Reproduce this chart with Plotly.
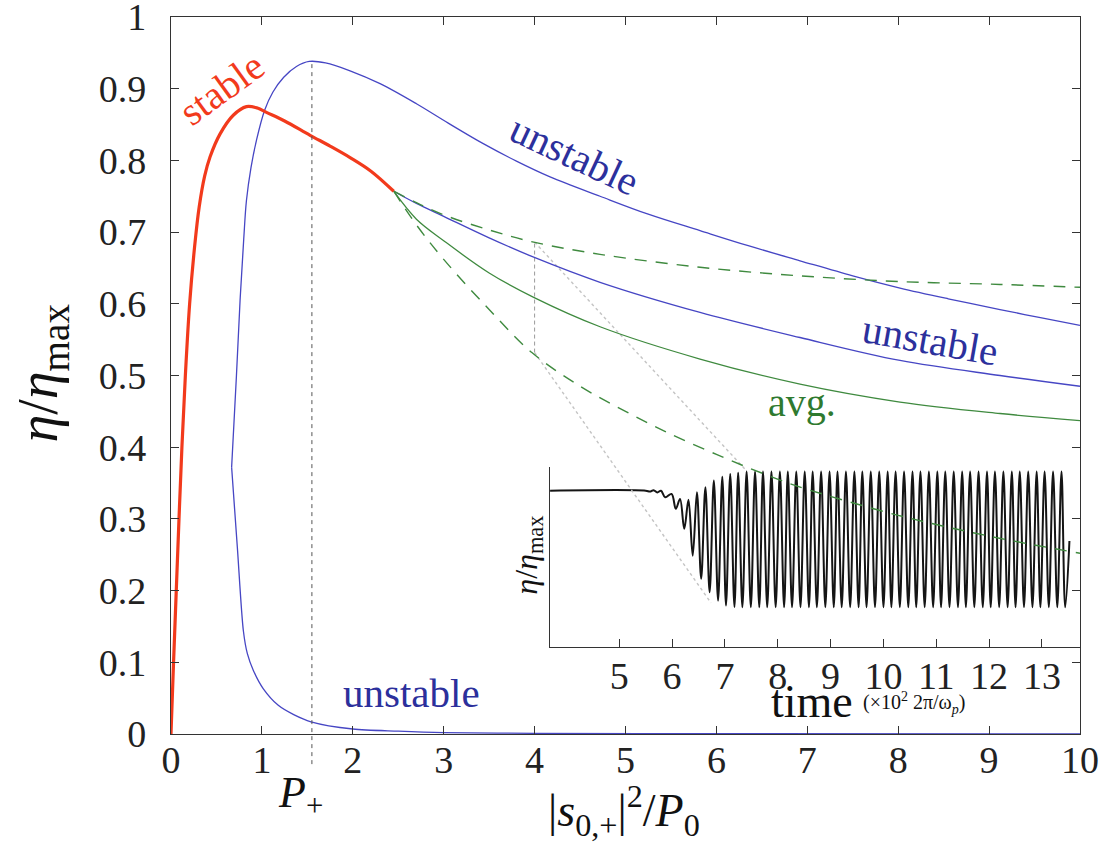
import plotly.graph_objects as go

# ---------------- main panel data (x = |s0,+|^2/P0, y = eta/eta_max) ----------------
stable_x = [0, 0.028, 0.058, 0.088, 0.120, 0.158, 0.205, 0.26, 0.31, 0.37, 0.43, 0.54,
            0.685, 0.83, 0.95, 1.05, 1.25, 1.53, 1.75, 1.97, 2.2, 2.45]
stable_y = [0, 0.10, 0.20, 0.30, 0.40, 0.50, 0.60, 0.68, 0.735, 0.778, 0.805, 0.837,
            0.863, 0.875, 0.873, 0.867, 0.855, 0.835, 0.820, 0.804, 0.785, 0.757]

unst_up_x = [0.667, 0.72, 0.76, 0.80, 0.83, 0.88, 0.94, 1.03, 1.12, 1.24, 1.38, 1.52, 1.7,
             1.97, 2.3, 2.70, 3.05, 3.44, 3.8, 4.17, 4.72, 5.25, 5.82, 6.35, 6.92, 7.5,
             8.02, 8.55, 9.12, 9.55, 10.0]
unst_up_y = [0.372, 0.50, 0.605, 0.69, 0.744, 0.79, 0.828, 0.870, 0.895, 0.916, 0.931, 0.938,
             0.936, 0.925, 0.907, 0.879, 0.852, 0.823, 0.799, 0.777, 0.750, 0.725, 0.702,
             0.681, 0.660, 0.639, 0.622, 0.607, 0.592, 0.581, 0.570]

unst_low_x = [0.667, 0.73, 0.796, 0.84, 0.906, 1.016, 1.18, 1.35, 1.54, 2.0, 2.5, 3.0, 4.0, 6.0, 10.0]
unst_low_y = [0.372, 0.26, 0.144, 0.112, 0.0886, 0.063, 0.040, 0.027, 0.017, 0.007, 0.004,
              0.002, 0.001, 0.0005, 0.0002]

unst_mid_x = [2.45, 2.7, 3.0, 3.5, 3.99, 4.72, 5.82, 6.92, 8.02, 9.12, 10]
unst_mid_y = [0.757, 0.740, 0.722, 0.692, 0.665, 0.630, 0.588, 0.553, 0.521, 0.500, 0.485]

avg_x = [2.45, 2.7, 3.0, 3.5, 3.99, 4.72, 5.82, 6.92, 8.02, 9.12, 10]
avg_y = [0.757, 0.718, 0.688, 0.643, 0.609, 0.568, 0.523, 0.488, 0.463, 0.447, 0.437]

max_x = [2.45, 2.7, 3.0, 3.5, 3.99, 4.72, 5.82, 6.92, 8.02, 9.12, 10]
max_y = [0.757, 0.741, 0.724, 0.703, 0.686, 0.669, 0.651, 0.639, 0.631, 0.627, 0.623]

min_x = [2.45, 2.7, 3.0, 3.5, 3.97, 4.5, 5.0, 5.5, 6.0, 6.3, 6.81, 7.03, 8.0, 9.0, 10]
min_y = [0.757, 0.71, 0.662, 0.592, 0.532, 0.485, 0.45, 0.418, 0.39, 0.374, 0.349, 0.34,
         0.305, 0.276, 0.252]

p_plus = 1.55
p_plus_peak = 0.937
sample_x = [4, 4]
sample_y = [0.532, 0.686]
zoom_top_x = [4, 6.31]
zoom_top_y = [0.686, 0.370]
zoom_bot_x = [4, 5.94]
zoom_bot_y = [0.532, 0.183]

x_ticks = [0, 1, 2, 3, 4, 5, 6, 7, 8, 9, 10]
y_ticks = [0, 0.1, 0.2, 0.3, 0.4, 0.5, 0.6, 0.7, 0.8, 0.9, 1]
y_ticktext = ["0", "0.1", "0.2", "0.3", "0.4", "0.5", "0.6", "0.7", "0.8", "0.9", "1"]

# ---------------- inset data (time in 10^2 2pi/omega_p, normalised eta) ----------------
osc_t = [3.69, 5.50, 5.58, 5.65, 5.72, 5.79, 5.87, 5.99, 6.07, 6.15, 6.23, 6.31, 6.39, 6.47,
         6.55, 6.63, 6.71, 6.79, 6.87, 6.95, 7.02, 7.10, 7.18, 7.25, 7.33, 7.41,
         7.49, 7.57, 7.65, 7.72, 7.80, 7.88, 7.96, 8.04, 8.12, 8.19, 8.27, 8.35, 8.43, 8.51,
         8.59, 8.66, 8.74, 8.82, 8.90, 8.98, 9.06, 9.13, 9.21, 9.29, 9.37, 9.45, 9.53, 9.60,
         9.68, 9.76, 9.84, 9.92, 10.00, 10.08, 10.15, 10.23, 10.31, 10.39, 10.47, 10.55,
         10.62, 10.70, 10.78, 10.86, 10.94, 11.02, 11.09, 11.17, 11.25, 11.33, 11.41, 11.49,
         11.56, 11.64, 11.72, 11.80, 11.88, 11.96, 12.03, 12.11, 12.19, 12.27, 12.35, 12.43,
         12.50, 12.58, 12.66, 12.74, 12.82, 12.90, 12.97, 13.05, 13.13, 13.21, 13.29, 13.37,
         13.44, 13.52, 13.60, 13.68]
osc_v = [0.870, 0.870, 0.865, 0.873, 0.860, 0.870, 0.833, 0.852, 0.769, 0.824, 0.658, 0.819,
         0.509, 0.861, 0.380, 0.889, 0.306, 0.926, 0.259, 0.948, 0.232, 0.963, 0.224, 0.970,
         0.222, 0.976,
         0.222, 0.976, 0.222, 0.976, 0.222, 0.976, 0.222, 0.976, 0.222, 0.976, 0.222, 0.976,
         0.222, 0.976, 0.222, 0.976, 0.222, 0.976, 0.222, 0.976, 0.222, 0.976, 0.222, 0.976,
         0.222, 0.976, 0.222, 0.976, 0.222, 0.976, 0.222, 0.976, 0.222, 0.976, 0.222, 0.976,
         0.222, 0.976, 0.222, 0.976, 0.222, 0.976, 0.222, 0.976, 0.222, 0.976, 0.222, 0.976,
         0.222, 0.976, 0.222, 0.976, 0.222, 0.976, 0.222, 0.976, 0.222, 0.976, 0.222, 0.976,
         0.222, 0.976, 0.222, 0.976, 0.222, 0.976, 0.222, 0.976, 0.222, 0.976, 0.222, 0.976,
         0.222, 0.976, 0.222, 0.976, 0.222, 0.59]
inset_ticks = [5, 6, 7, 8, 9, 10, 11, 12, 13]

# ---------------- styling ----------------
SERIF = "Liberation Serif, DejaVu Serif, serif"
RED = "#f23a1c"
BLUE = "#4646c4"
BLUE_T = "#2c309c"
GREEN = "#3f8a3f"
GREEN_T = "#2f7a2f"
AX = "#333333"

fig = go.Figure()

# inset (drawn first, on subplot xy)
fig.add_trace(go.Scatter(x=osc_t, y=osc_v, mode="lines", xaxis="x", yaxis="y",
                         line=dict(color="#151515", width=2, shape="spline", smoothing=1.0),
                         hoverinfo="skip"))

# main panel (subplot x2y2, drawn on top)
def main_line(x, y, color, width, dash="solid", smooth=1.0):
    fig.add_trace(go.Scatter(x=x, y=y, mode="lines", xaxis="x2", yaxis="y2",
                             line=dict(color=color, width=width, dash=dash, shape="spline",
                                       smoothing=smooth),
                             hoverinfo="skip"))

main_line(sample_x, sample_y, "#9a9a9a", 1, "4px,3px")
main_line(zoom_top_x, zoom_top_y, "#c4c4c4", 1.4, "dot")
main_line(zoom_bot_x, zoom_bot_y, "#c4c4c4", 1.4, "dot")
main_line(unst_low_x, unst_low_y, BLUE, 1.3, smooth=0.8)
main_line(unst_up_x, unst_up_y, BLUE, 1.3)
main_line(unst_mid_x, unst_mid_y, BLUE, 1.3)
main_line(avg_x, avg_y, GREEN, 1.3)
main_line(max_x, max_y, GREEN, 1.4, "12px,9px")
main_line(min_x, min_y, GREEN, 1.4, "12px,9px")
main_line(stable_x, stable_y, RED, 3.2)

tickfont = dict(family=SERIF, size=38, color="#222")

fig.update_layout(
    width=1106, height=844,
    margin=dict(l=171, r=26, t=17, b=110, autoexpand=False),
    paper_bgcolor="white", plot_bgcolor="rgba(0,0,0,0)",
    showlegend=False,
    xaxis2=dict(domain=[0, 1], anchor="y2", range=[0, 10], tickvals=x_ticks,
                ticks="inside", ticklen=8, tickwidth=1, tickcolor=AX,
                showline=True, linecolor=AX, linewidth=1.3, mirror="ticks", automargin=False,
                showgrid=False, zeroline=False, tickfont=tickfont, ticklabelstandoff=-8,
                ticklabeloverflow="allow"),
    yaxis2=dict(domain=[0, 1], anchor="x2", range=[0, 1], tickvals=y_ticks, ticktext=y_ticktext,
                ticks="inside", ticklen=8, tickwidth=1, tickcolor=AX, automargin=False,
                showline=True, linecolor=AX, linewidth=1.3, mirror="ticks",
                showgrid=False, zeroline=False, tickfont=tickfont, ticklabelstandoff=16,
                ticklabeloverflow="allow"),
    xaxis=dict(domain=[0.417, 1.0], anchor="y", range=[3.69, 13.72], tickvals=inset_ticks,
               ticks="inside", ticklen=8, tickwidth=1, tickcolor=AX, automargin=False,
               showline=True, linecolor=AX, linewidth=1.3, mirror=False,
               showgrid=False, zeroline=False, tickfont=tickfont, ticklabelstandoff=-5,
               ticklabeloverflow="allow"),
    yaxis=dict(domain=[0.121, 0.372], anchor="x", range=[0, 1], showticklabels=False,
               ticks="", showline=True, linecolor=AX, linewidth=1.3, automargin=False,
               showgrid=False, zeroline=False),
)

# P+ marker line (extends slightly below the axis)
fig.add_shape(type="line", xref="x2", yref="paper", x0=p_plus, x1=p_plus,
              y0=-0.042, y1=p_plus_peak, line=dict(color="#555", width=1, dash="4px,4px"),
              layer="above")

def ann(text, x, y, size, color="#111", angle=0, xref="x2", yref="y2"):
    fig.add_annotation(text=text, x=x, y=y, xref=xref, yref=yref, showarrow=False,
                       textangle=angle, font=dict(family=SERIF, size=size, color=color),
                       xanchor="center", yanchor="middle")

ann("stable", 0.56, 0.900, 40, RED, -36)
ann("unstable", 4.44, 0.807, 41, BLUE_T, 25)
ann("unstable", 8.36, 0.550, 41, BLUE_T, 10)
ann("unstable", 2.65, 0.057, 41, BLUE_T, 0)
ann("avg.", 6.94, 0.463, 40, GREEN_T, 0)

ann("<i>η</i>/<i>η</i><sub>max</sub>", -0.142, 0.504, 56, "#111", -90, "paper", "paper")
ann("|<i>s</i><sub>0,+</sub>|<sup>2</sup>/<i>P</i><sub>0</sub>", 0.498, -0.106, 46, "#111", 0,
    "paper", "paper")
ann("<i>P</i><sub>+</sub>", 0.142, -0.086, 44, "#111", 0, "paper", "paper")
ann("<i>η</i>/<i>η</i><sub>max</sub>", 0.393, 0.249, 32, "#111", -90, "paper", "paper")
ann("time", 0.705, 0.045, 46, "#111", 0, "paper", "paper")
ann("(×10<sup>2</sup> 2π/ω<sub><i>p</i></sub>)", 0.817, 0.043, 20, "#111", 0, "paper", "paper")

fig.write_html("out.html", post_script="document.body.style.margin='0';",
               config={"displayModeBar": False})
